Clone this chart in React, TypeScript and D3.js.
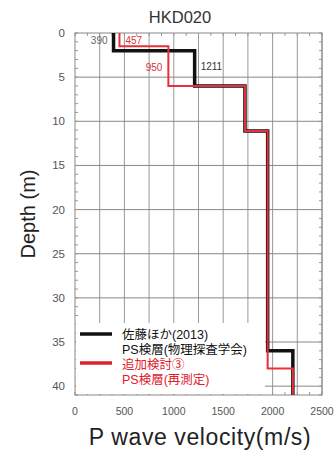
import React from "react";
import * as d3 from "d3";

const title = "HKD020";
const xTicks = [0, 500, 1000, 1500, 2000, 2500];
const xGrid = [250, 500, 750, 1000, 1250, 1500, 1750, 2000, 2250, 2500];
const yTicks = [0, 5, 10, 15, 20, 25, 30, 35, 40];
// step profiles: [velocity, topDepth, bottomDepth]
const satoVel = [390, 1211, 1720, 1950, 2205];
const satoTop = [0, 2, 6, 11.1, 36];
const satoBot = [2, 6, 11.1, 36, 41];
const redVel = [450, 945, 1720, 1950, 2205];
const redTop = [0, 1.5, 6, 11.1, 38];
const redBot = [1.5, 6, 11.1, 38, 41];
const labels = [
  { text: "390", v: 390, d: 0.9, color: "#666", anchor: "end" },
  { text: "457", v: 450, d: 0.9, color: "#e0303a", anchor: "start" },
  { text: "950", v: 945, d: 3.9, color: "#e0303a", anchor: "end" },
  { text: "1211", v: 1211, d: 3.8, color: "#333", anchor: "start" },
];
const legendItems = [
  { line1: "佐藤ほか(2013)", line2: "PS検層(物理探査学会)", color: "#111" },
  { line1: "追加検討③", line2: "PS検層(再測定)", color: "#e0202a" },
];

const L = 75, R = 322, T = 33, B = 395;

function stepPath(vel: number[], top: number[], bot: number[], x: any, y: any) {
  const pts: [number, number][] = [];
  vel.forEach((v, i) => {
    pts.push([x(v), y(top[i])]);
    pts.push([x(v), y(bot[i])]);
  });
  return d3.line()(pts) as string;
}

export default function App() {
  const x = d3.scaleLinear().domain([0, 2500]).range([L, R]);
  const y = d3.scaleLinear().domain([0, 41]).range([T, B]);
  const font = "Arial, 'Liberation Sans', 'Noto Sans CJK JP', sans-serif";
  const minorY = d3.range(0, 42, 1);
  const minorX = d3.range(0, 2501, 125);
  return (
    <svg width={335} height={450} style={{ position: "absolute", left: 0, top: 0, background: "#fff" }} fontFamily={font}>
      <rect x={0} y={0} width={335} height={450} fill="#fff" />
      <text x={180} y={23} textAnchor="middle" fontSize={16.5} fill="#333">{title}</text>
      {/* grid */}
      {xGrid.map((v) => (
        <line key={"gx" + v} x1={x(v)} x2={x(v)} y1={T} y2={B} stroke="#999" strokeWidth={1} />
      ))}
      {yTicks.filter((d) => d > 0).map((d) => (
        <line key={"gy" + d} x1={L} x2={R} y1={y(d)} y2={y(d)} stroke="#888" strokeWidth={1} />
      ))}
      {/* minor ticks */}
      {minorY.map((d) => (
        <g key={"my" + d}>
          <line x1={L} x2={L + 3} y1={y(d)} y2={y(d)} stroke="#999" />
          <line x1={R - 3} x2={R} y1={y(d)} y2={y(d)} stroke="#999" />
        </g>
      ))}
      {minorX.map((v) => (
        <g key={"mx" + v}>
          <line x1={x(v)} x2={x(v)} y1={B} y2={B - 3} stroke="#999" />
          <line x1={x(v)} x2={x(v)} y1={T} y2={T + 3} stroke="#999" />
        </g>
      ))}
      {/* legend box */}
      <rect x={L + 1} y={323} width={189} height={B - 324} fill="#fff" />
      <rect x={L} y={T} width={R - L} height={B - T} fill="none" stroke="#888" strokeWidth={1} />
      {/* profiles */}
      <path d={stepPath(satoVel, satoTop, satoBot, x, y)} fill="none" stroke="#111" strokeWidth={3.5} />
      <path d={stepPath(redVel, redTop, redBot, x, y)} fill="none" stroke="#e8303c" strokeWidth={2} />
      {labels.map((l) => (
        <text key={l.text} x={x(l.v) + (l.anchor === "end" ? -6 : 6)} y={y(l.d) + 3.5} textAnchor={l.anchor as any} fontSize={10} fill={l.color}>{l.text}</text>
      ))}
      {/* axes labels */}
      {yTicks.map((d) => (
        <text key={"yt" + d} x={L - 10} y={y(d) + 4} textAnchor="end" fontSize={11.5} fill="#555">{d}</text>
      ))}
      {xTicks.map((v) => (
        <text key={"xt" + v} x={x(v)} y={B + 20} textAnchor="middle" fontSize={10.5} fill="#555">{v}</text>
      ))}
      <text transform={`translate(35,214) rotate(-90)`} textAnchor="middle" fontSize={20} fill="#222">Depth (m)</text>
      <text x={200} y={445} textAnchor="middle" fontSize={23} letterSpacing={0.6} fill="#222">P wave velocity(m/s)</text>
      {/* legend */}
      {legendItems.map((it, i) => (
        <g key={"lg" + i}>
          <line x1={80} x2={112} y1={334 + i * 29} y2={334 + i * 29} stroke={it.color} strokeWidth={3.5} />
          <text x={122} y={339 + i * 30} fontSize={12.5} fill={it.color}>{it.line1}</text>
          <text x={122} y={354 + i * 30} fontSize={12.5} fill={it.color}>{it.line2}</text>
        </g>
      ))}
    </svg>
  );
}
